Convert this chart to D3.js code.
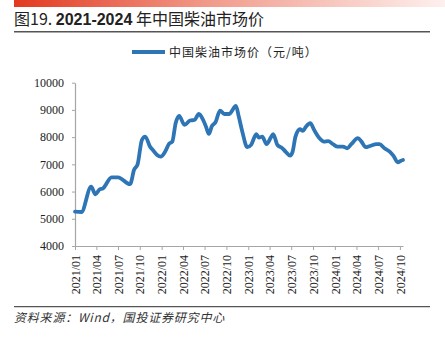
<!DOCTYPE html>
<html><head><meta charset="utf-8">
<script src="https://cdn.jsdelivr.net/npm/d3@7/dist/d3.min.js"></script>
<style>
html,body{margin:0;padding:0;background:#fff;}
svg{display:block;}
</style></head>
<body>
<script>
const titleText = ["图19. ", "2021-2024", " 年中国柴油市场价"];
const seriesName = "中国柴油市场价（元/吨）";
const sourceText = "资料来源：Wind，国投证券研究中心";
const dates = ["2021-01-01","2021-01-28","2021-03-10","2021-03-28","2021-04-15","2021-04-28","2021-06-04","2021-07-01","2021-08-21","2021-09-07","2021-09-22","2021-10-10","2021-10-24","2021-11-13","2021-11-25","2021-12-13","2021-12-28","2022-01-16","2022-02-01","2022-02-15","2022-03-01","2022-03-16","2022-04-07","2022-05-01","2022-05-19","2022-06-07","2022-06-25","2022-07-07","2022-07-19","2022-08-01","2022-08-16","2022-09-04","2022-09-22","2022-10-13","2022-11-10","2022-11-22","2022-12-07","2022-12-28","2023-01-13","2023-02-04","2023-02-15","2023-03-01","2023-03-19","2023-04-07","2023-04-16","2023-05-04","2023-05-25","2023-06-07","2023-06-26","2023-07-07","2023-07-19","2023-08-07","2023-08-19","2023-09-01","2023-09-19","2023-10-07","2023-10-28","2023-11-16","2023-12-04","2023-12-24","2024-01-13","2024-02-04","2024-02-22","2024-03-10","2024-04-07","2024-04-22","2024-05-10","2024-05-28","2024-06-25","2024-07-07","2024-07-28","2024-08-19","2024-09-04","2024-09-22","2024-10-06","2024-10-14"];
const prices = [5260,5250,6180,5900,6080,6110,6525,6525,6270,6800,7010,7900,8020,7650,7530,7345,7285,7470,7750,7835,8510,8780,8450,8610,8630,8850,8630,8385,8120,8410,8545,8975,8850,8850,9150,8755,8200,7630,7715,8110,7980,8020,7740,8000,8110,7710,7590,7470,7320,7470,8020,8290,8230,8385,8510,8240,7960,7835,7850,7740,7650,7650,7590,7740,7960,7835,7630,7675,7740,7740,7590,7470,7310,7075,7135,7160];
const yTicks = [4000,5000,6000,7000,8000,9000,10000];
const xTickLabels = ["2021/01","2021/04","2021/07","2021/10","2022/01","2022/04","2022/07","2022/10","2023/01","2023/04","2023/07","2023/10","2024/01","2024/04","2024/07","2024/10"];

const W = 445, H = 340;
const svg = d3.select("body").append("svg").attr("width", W).attr("height", H);
const defs = svg.append("defs");
const grad = defs.append("linearGradient").attr("id","topbar").attr("x1","0").attr("x2","1").attr("y1","0").attr("y2","0");
grad.append("stop").attr("offset","0").attr("stop-color","#e2391f");
grad.append("stop").attr("offset","0.45").attr("stop-color","#f19a8a");
grad.append("stop").attr("offset","1").attr("stop-color","#fdf0ee");
svg.append("rect").attr("x",14).attr("y",0).attr("width",W-14).attr("height",7).attr("fill","url(#topbar)");

const cjk = "'Noto Sans CJK SC','Noto Sans',sans-serif";
const title = svg.append("text").attr("x",14).attr("y",25).attr("font-family",cjk).attr("font-size",16).attr("fill","#222");
title.append("tspan").text(titleText[0]);
title.append("tspan").attr("font-weight","bold").attr("font-family","'Liberation Sans',Arial,sans-serif").text(titleText[1]);
title.append("tspan").text(titleText[2]);
svg.append("line").attr("x1",14).attr("x2",430).attr("y1",31.7).attr("y2",31.7).attr("stroke","#555").attr("stroke-width",1.4);

const parse = d3.timeParse("%Y-%m-%d");
const data = dates.map((d,i)=>({date: parse(d), value: prices[i]}));
const x = d3.scaleTime().domain([parse("2021-01-01"), parse("2024-10-14")]).range([75, 403]);
const y = d3.scaleLinear().domain([4000,10000]).range([246, 82.7]);

const tickDates = xTickLabels.map(s => d3.timeParse("%Y/%m")(s));
const gx = svg.append("g").attr("transform","translate(0,246)")
  .call(d3.axisBottom(x).tickValues(tickDates).tickSize(4).tickSizeOuter(0).tickFormat((d,i)=>xTickLabels[i]));
gx.select(".domain").attr("stroke","#a6a6a6").attr("stroke-width",1.2);
gx.selectAll(".tick line").attr("stroke","#a6a6a6");
gx.selectAll(".tick text").attr("font-family","'Liberation Serif','Times New Roman',serif").attr("font-size",12).attr("fill","#222")
  .attr("transform","rotate(-90)").attr("text-anchor","end").attr("x",-9).attr("y",0).attr("dy","0.35em");

const gy = svg.append("g").attr("transform","translate(75,0)")
  .call(d3.axisLeft(y).tickValues(yTicks).tickSize(3).tickSizeOuter(0).tickFormat(d3.format("d")));
gy.select(".domain").attr("stroke","#a6a6a6").attr("stroke-width",1.2);
gy.selectAll(".tick line").attr("stroke","#a6a6a6");
gy.selectAll(".tick text").attr("font-family","'Liberation Serif','Times New Roman',serif").attr("font-size",12).attr("fill","#222").attr("x",-11);

const line = d3.line().x(d=>x(d.date)).y(d=>y(d.value)).curve(d3.curveMonotoneX);
svg.append("path").datum(data).attr("d",line).attr("fill","none").attr("stroke","#2e75b6").attr("stroke-width",3.8).attr("stroke-linejoin","round").attr("stroke-linecap","round");

// legend
svg.append("line").attr("x1",132).attr("x2",165).attr("y1",52).attr("y2",52).attr("stroke","#2e75b6").attr("stroke-width",3.8);
svg.append("text").attr("x",169).attr("y",56.5).attr("font-family",cjk).attr("font-size",12).attr("fill","#222").attr("letter-spacing",1).text(seriesName);

// footer
svg.append("line").attr("x1",14).attr("x2",430).attr("y1",306.7).attr("y2",306.7).attr("stroke","#555").attr("stroke-width",1.2);
svg.append("text").attr("x",14).attr("y",322).attr("font-family",cjk).attr("font-size",12).attr("font-style","italic").attr("fill","#333").attr("letter-spacing",0.8).text(sourceText);
</script>
</body></html>
